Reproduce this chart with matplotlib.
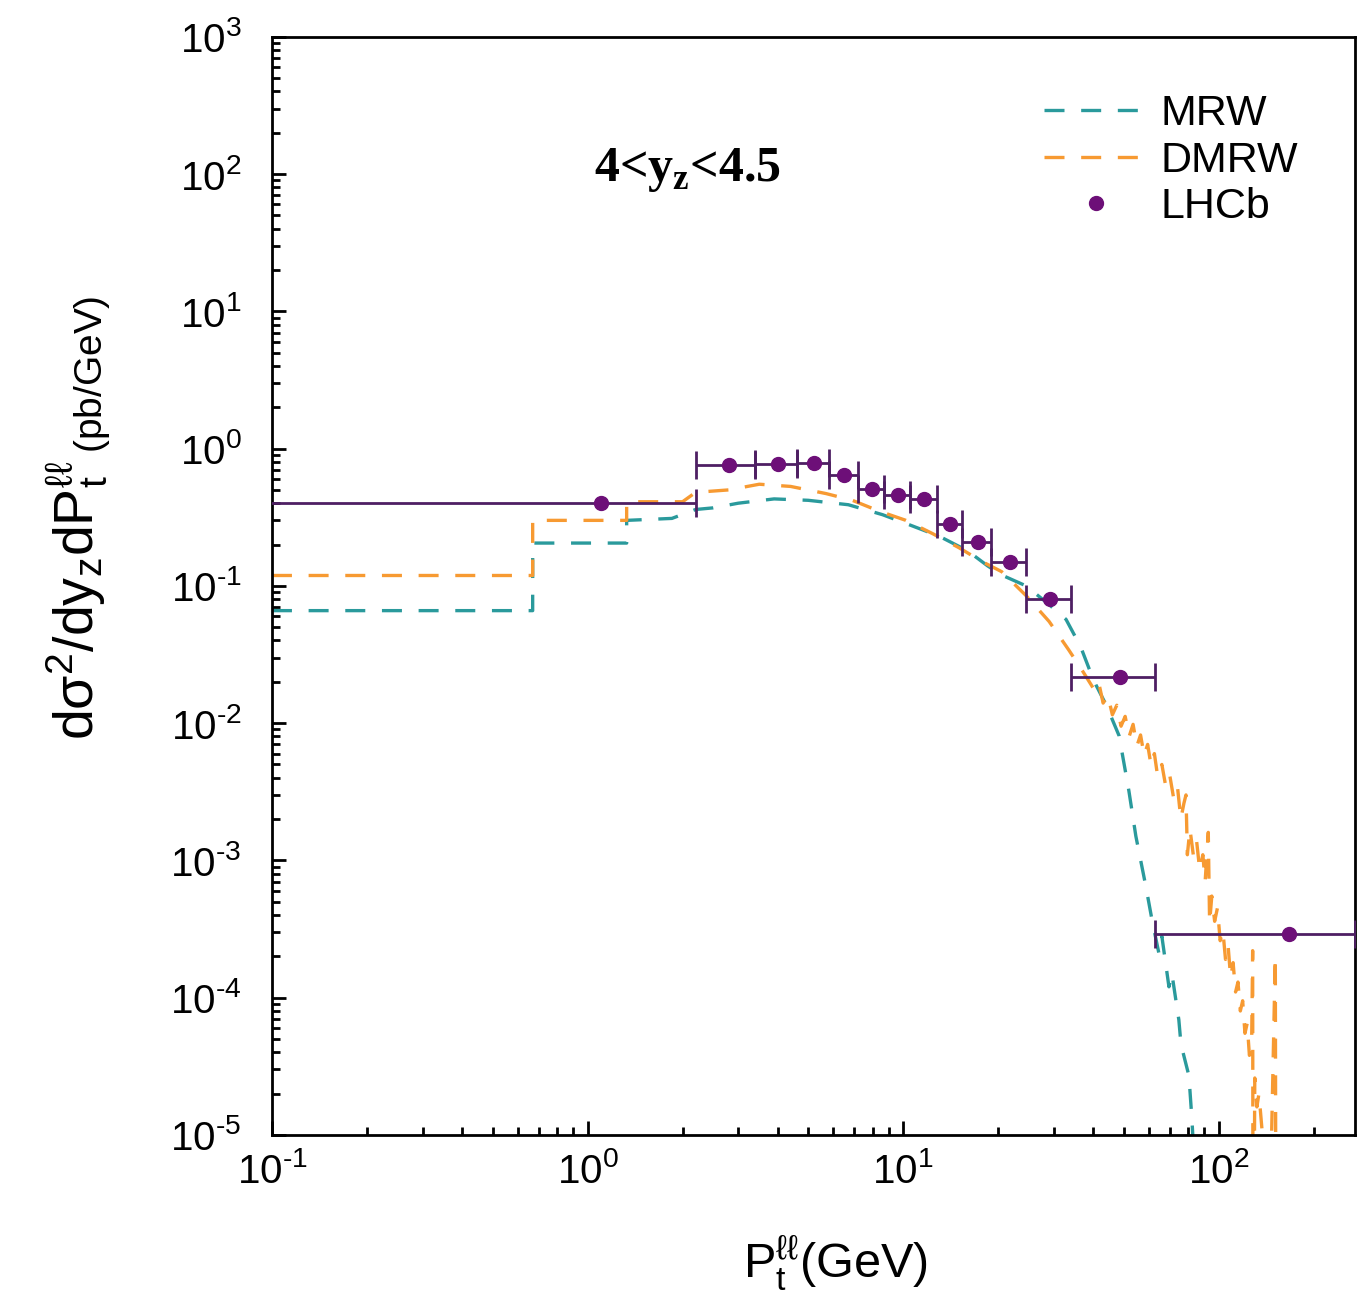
import numpy as np
import matplotlib
matplotlib.use("Agg")
import matplotlib.pyplot as plt
from matplotlib.ticker import LogLocator, FuncFormatter

plt.rcParams['font.family'] = ['Liberation Sans', 'DejaVu Sans']
plt.rcParams['mathtext.fontset'] = 'custom'
plt.rcParams['mathtext.rm'] = 'Liberation Sans'
plt.rcParams['mathtext.it'] = 'Liberation Sans:italic'
plt.rcParams['mathtext.bf'] = 'Liberation Sans:bold'
plt.rcParams['axes.unicode_minus'] = False

# LHCb data, 4 < y_Z < 4.5
pt_lhcb = [1.1, 2.8, 4.0, 5.2, 6.5, 7.95, 9.6, 11.65, 14.1, 17.2, 21.75, 29.25, 48.5, 166.5]
pt_lo = [0.0, 2.2, 3.4, 4.6, 5.8, 7.2, 8.7, 10.5, 12.8, 15.4, 19.0, 24.5, 34.0, 63.0]
pt_hi = [2.2, 3.4, 4.6, 5.8, 7.2, 8.7, 10.5, 12.8, 15.4, 19.0, 24.5, 34.0, 63.0, 270.0]
xs_lhcb = [0.40, 0.76, 0.77, 0.78, 0.64, 0.51, 0.46, 0.43, 0.28, 0.21, 0.15, 0.080, 0.0215, 2.9e-4]

# MRW prediction
pt_mrw = [0.1, 0.67, 0.67, 1.33, 1.33, 1.85, 2.2, 2.5, 3.0, 3.9, 5.0, 6.7, 8.6, 10.4, 13.0,
          16.0, 18.5, 20.5, 24.5, 29.0, 32.8, 36.5, 38.8, 40.8, 44.0, 48.3, 51.9, 54.6,
          58.7, 61.4, 64.6, 66.0, 69.5, 71.0, 74.7, 75.8, 77.0, 80.4, 82.2, 84.0]
xs_mrw = [0.066, 0.066, 0.205, 0.205, 0.30, 0.31, 0.36, 0.37, 0.40, 0.43, 0.42, 0.39, 0.33,
          0.28, 0.23, 0.18, 0.14, 0.12, 0.10, 0.073, 0.057, 0.036, 0.025, 0.019, 0.0135,
          0.0081, 0.0032, 0.0015, 6.5e-4, 3.7e-4, 2.1e-4, 2.8e-4, 1.2e-4, 1.5e-4, 6.9e-5,
          4.7e-5, 4.0e-5, 2.7e-5, 1.3e-5, 5e-6]

# DMRW prediction (noisy at high pt)
pt_dmrw = [0.1, 0.67, 0.67, 1.33, 1.33, 2.0, 2.2, 2.8, 3.5, 4.4, 5.7, 6.9, 8.4, 10.2, 12.4,
           15.0, 17.8, 20.5, 24.5, 29.0, 33.5, 37.0, 40.0, 41.5, 43.0, 44.5, 46.0, 47.5,
           49.0, 50.5, 52.0, 53.5, 55.0, 56.5, 58.0, 59.5, 61.0, 62.5, 64.0, 66.0, 68.0,
           70.0, 72.0, 74.0, 75.8, 77.5, 78.7, 79.5, 81.0, 83.0, 85.0, 87.0, 89.0, 90.5,
           92.6, 93.5, 95.0, 97.0, 99.0, 101.0, 103.0, 105.0, 107.0, 109.0, 111.0, 113.0,
           115.0, 117.0, 119.0, 121.0, 123.0, 125.0, 127.0, 128.0, 128.5, 130.0, 132.0,
           134.0, 137.0, 141.0, 151.0, 152.0]
xs_dmrw = [0.119, 0.119, 0.30, 0.30, 0.41, 0.41, 0.48, 0.50, 0.55, 0.53, 0.47, 0.42, 0.35,
           0.30, 0.24, 0.19, 0.15, 0.127, 0.085, 0.055, 0.034, 0.024, 0.018, 0.0205, 0.0140,
           0.0160, 0.0115, 0.0135, 0.0095, 0.0112, 0.0080, 0.0098, 0.0068, 0.0082, 0.0058,
           0.0070, 0.0049, 0.0060, 0.0041, 0.0050, 0.0034, 0.0041, 0.0028, 0.0034, 0.0020,
           0.0026, 0.0030, 0.0011, 0.0017, 0.0011, 0.0014, 0.00085, 0.0011, 0.0007, 0.0016,
           0.00035, 0.00055, 0.00036, 0.00045, 0.00026, 0.00031, 0.00019, 0.00024, 0.00014,
           0.00018, 0.00011, 0.00013, 8e-5, 9.5e-5, 5.5e-5, 6.5e-5, 3.8e-5, 4.2e-5, 2.2e-4,
           1e-7, 2.6e-5, 1.6e-5, 2.0e-5, 1.1e-5, 1e-7, 2.0e-4, 1e-7]


def pow10(v, pos):
    e = int(round(np.log10(v)))
    s = str(e).replace('-', '\u2010')
    return r'$\mathregular{10^{%s}}$' % s


fig = plt.figure(figsize=(13.57, 13.13), dpi=100)
ax = fig.add_axes([0.2004, 0.1356, 0.7981, 0.8364])

l1, = ax.plot(pt_mrw, xs_mrw, color='#2a9a9c', lw=2.4, ls='--', label='MRW')
l1.set_dashes([6, 5])
l2, = ax.plot(pt_dmrw, xs_dmrw, color='#f79a32', lw=2.4, ls='--', label='DMRW')
l2.set_dashes([6, 5])

pt_c = np.array(pt_lhcb)
xerr = [pt_c - np.array(pt_lo), np.array(pt_hi) - pt_c]
ax.errorbar(pt_lhcb, xs_lhcb, xerr=xerr, fmt='none', ecolor='#4e1f63', elinewidth=2,
            capsize=10, capthick=2, zorder=4)
ax.plot(pt_lhcb, xs_lhcb, 'o', color='#6d0f78', ms=10, ls='none', label='LHCb', zorder=5)

ax.set_xscale('log')
ax.set_yscale('log')
ax.set_xlim(0.1, 270)
ax.set_ylim(1e-5, 1e3)

ax.xaxis.set_major_locator(LogLocator(base=10, numticks=10))
ax.xaxis.set_minor_locator(LogLocator(base=10, subs=np.arange(2, 10), numticks=20))
ax.yaxis.set_major_locator(LogLocator(base=10, numticks=12))
ax.yaxis.set_minor_locator(LogLocator(base=10, subs=np.arange(2, 10), numticks=20))
ax.xaxis.set_major_formatter(FuncFormatter(pow10))
ax.yaxis.set_major_formatter(FuncFormatter(pow10))

ax.tick_params(which='both', direction='in', top=False, right=False, width=2)
ax.tick_params(which='major', length=10, labelsize=29)
ax.tick_params(axis='y', which='major', pad=22)
ax.tick_params(axis='x', which='major', pad=12)
ax.tick_params(which='minor', length=6)
for s in ax.spines.values():
    s.set_linewidth(2)

ax.set_xlabel(r'$\mathrm{P_t^{\ell\ell}}$(GeV)', fontsize=35)
ax.xaxis.set_label_coords(0.52, -0.09)
ax.set_ylabel(r'$\mathrm{d\sigma^2/dy_zdP_t^{\ell\ell}}\,{}_{\mathrm{(pb/GeV)}}$', fontsize=40)
ax.yaxis.set_label_coords(-0.148, 0.562)

ax.text(0.384, 0.879, r'4<y$_\mathregular{z}$<4.5', transform=ax.transAxes,
        fontsize=36, fontweight='bold', family='Liberation Serif', ha='center', va='center')

ax.legend(loc='upper right', bbox_to_anchor=(0.975, 0.975), frameon=False, fontsize=31,
          handlelength=2.4, handletextpad=0.3, labelspacing=0.15, borderaxespad=0.3)

fig.savefig('out.png', dpi=100)
